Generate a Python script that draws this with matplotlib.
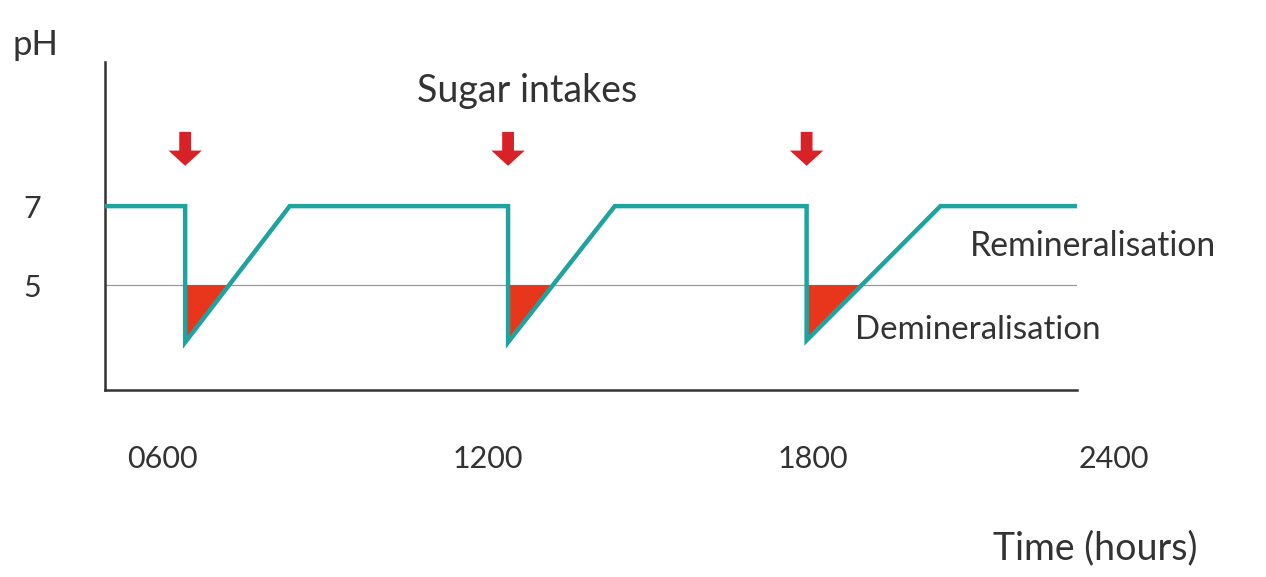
import numpy as np
import matplotlib.pyplot as plt

# pH curve over the day (hours, pH)
hours = [4.93, 6.41, 6.41, 8.34, 12.37, 12.37, 14.34, 17.88, 17.88, 20.35, 22.87]
ph = [7.0, 7.0, 3.55, 7.0, 7.0, 3.55, 7.0, 7.0, 3.6, 7.0, 7.0]

intakes = [6.41, 12.37, 17.88]        # sugar intake times
critical_ph = 5.0

xtick_pos = [6.0, 12.0, 18.0, 23.55]
xtick_labels = ['0600', '1200', '1800', '2400']
ytick_pos = [5, 7]
ytick_labels = ['5', '7']

teal = '#1ea39f'
red = '#e8361c'
arrow_red = '#d92228'
txt = '#333333'

plt.rcParams['font.family'] = ['Lato', 'DejaVu Sans']

fig = plt.figure(figsize=(12.66, 5.77), dpi=100)
ax = fig.add_axes([0.0829, 0.324, 0.7678, 0.5685])

# critical pH line
ax.axhline(critical_ph, color='#9a9a9a', lw=0.9, zorder=1)

# red demineralisation triangles below pH 5
h = np.array(hours)
p = np.array(ph)
for i, t in enumerate(intakes):
    j = 3 * i + 2                      # bottom of the dip
    x0, y0 = h[j], p[j]
    x1, y1 = h[j + 1], p[j + 1]
    xc = x0 + (critical_ph - y0) * (x1 - x0) / (y1 - y0)
    ax.fill([x0, xc, x0], [critical_ph, critical_ph, y0],
            color=red, lw=0, zorder=2)

ax.plot(hours, ph, color=teal, lw=3.2, solid_joinstyle='miter', zorder=3)

ax.set_xlim(4.93, 22.87)
ax.set_ylim(2.34, 10.65)

# sugar intake arrows
for t in intakes:
    ax.annotate('', xy=(t, 8.02), xytext=(t, 8.88),
                arrowprops=dict(arrowstyle='simple,head_length=1.1,head_width=2.4,tail_width=0.85',
                                color=arrow_red, lw=0, shrinkA=0, shrinkB=0),
                annotation_clip=False)

ax.text(12.72, 9.92, 'Sugar intakes', fontsize=27, color=txt, ha='center', va='center')
ax.text(20.89, 6.0, 'Remineralisation', fontsize=24.3, color=txt, ha='left', va='center')
ax.text(18.78, 3.85, 'Demineralisation', fontsize=23.8, color=txt, ha='left', va='center')

# x labels (the 2400 label sits beyond the axis end, as in the original)
ax.set_xticks([])
for xp, lab in zip(xtick_pos, xtick_labels):
    ax.text(xp, -0.21, lab, transform=ax.get_xaxis_transform(), fontsize=22,
            color=txt, ha='center', va='center', clip_on=False)

ax.set_yticks(ytick_pos)
ax.set_yticklabels(ytick_labels, fontsize=22, color=txt)
ax.tick_params(axis='y', length=0, pad=59)
for lab in ax.get_yticklabels():
    lab.set_horizontalalignment('left')

for s in ['top', 'right']:
    ax.spines[s].set_visible(False)
for s in ['left', 'bottom']:
    ax.spines[s].set_color('#333333')
    ax.spines[s].set_linewidth(1.8)

fig.text(0.028, 0.922, 'pH', fontsize=25, color=txt, ha='center', va='center')
fig.text(0.865, 0.05, 'Time (hours)', fontsize=27, color=txt, ha='center', va='center')

fig.savefig('out.png', dpi=100)
